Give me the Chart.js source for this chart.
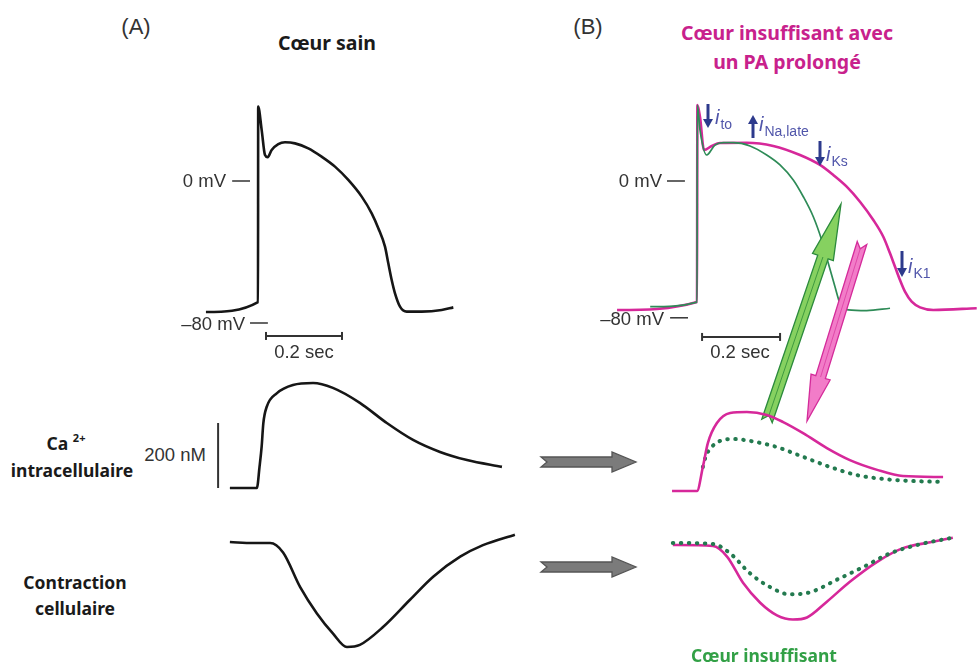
<!DOCTYPE html>
<html>
<head>
<meta charset="utf-8">
<script src="https://cdn.jsdelivr.net/npm/chart.js@4.4.0/dist/chart.umd.min.js"></script>
<style>
body { margin: 0; background: #fff; }
#page { position: relative; width: 980px; height: 664px; overflow: hidden; background: #fff; }
#page canvas { position: absolute; }
.t { position: absolute; white-space: nowrap; }
.lbl { font-family: "Noto Sans"; font-weight: 700; font-size: 17.5px; color: #1a1a1a; }
.ax { font-family: "Liberation Sans"; font-size: 18.5px; color: #333; }
.pan { font-family: "Liberation Sans"; font-size: 22px; color: #333; }
.cur { font-family: "Liberation Sans"; font-size: 20px; color: #5055aa; font-style: italic; }
.cur span { font-size: 14px; font-style: normal; position: relative; top: 5px; margin-left: 1px; }
</style>
</head>
<body>
<div id="page"></div>
<script>
// action potentials: time in ms (0 = upstroke), voltage in mV
const apTimeA = [-137, 0, 0.5, 9.7, 18.4, 25.5, 36, 53.4, 71, 97.4, 132.4, 167.6, 202.6, 237.6, 272.9, 299.2, 316.6, 334.2, 342.9, 351.8, 360.5, 373.7, 391.3, 430.8, 483.4, 514];
const apVoltA = [-73.8, -68.2, 41.9, 28.7, 14.6, 13.4, 17.5, 20.8, 21.8, 21.2, 18.4, 13.7, 8.1, 0.6, -8.8, -18.2, -26.6, -37, -46.4, -55.8, -63.3, -70.8, -73.6, -73.6, -72.7, -71.2];

const apTimeBgreen = [-120, 0, 1, 7.7, 24.8, 46, 67.5, 93.1, 135.9, 178.7, 212.8, 246.9, 272.6, 298.2, 319.7, 336.7, 353.8, 366.7, 388, 435.1, 494.9];
const apVoltBgreen = [-73.5, -70.8, 44.4, 29.8, 15.2, 21, 22.4, 22.4, 20.5, 15.2, 9.4, 0.6, -9.2, -20.9, -34.5, -48.1, -61.8, -71.5, -75.4, -75.8, -74.4];

const apTimeBpink = [-205, 0, 1, 7.7, 18, 38, 59, 127.4, 195.6, 264.1, 315.4, 349.5, 383.8, 417.9, 452.1, 477.7, 494.9, 507.7, 520.5, 533.3, 550.5, 571.8, 605.9, 717.2];
const apVoltBpink = [-75.4, -70.8, 44.4, 37.4, 18.1, 20.5, 22.2, 22.4, 20.5, 15.2, 9.4, 3.5, -3.3, -12.1, -22.8, -32.6, -42.3, -50.1, -57.9, -64.7, -70.6, -73.9, -75.4, -74.4];

// intracellular Ca2+ in nM
const caTimeA = [-74, -3, 4, 9.6, 14, 23, 50, 92, 145, 197, 268, 339, 408, 479, 550, 642];
const caA = [100, 100, 165, 227, 299, 350, 392, 417, 423, 408, 362, 300, 248, 211, 186, 165];

const caTimeBpink = [-64, 0, 15, 28, 51, 85, 128, 179, 221, 272, 333, 392, 462, 528, 631];
const caBpink = [100, 100, 174, 248, 309, 340, 343, 334, 312, 278, 232, 195, 165, 146, 143];

const caTimeBgreen = [15, 23, 38, 59, 92, 136, 205, 272, 341, 410, 477, 546, 628];
const caBgreen = [174, 208, 236, 254, 260, 254, 235, 205, 174, 149, 137, 131, 128];

// cell length change (arbitrary units, negative = shortening)
const ctTimeA = [-74, -13, 32, 66, 111, 155, 197, 234, 268, 329, 400, 461, 532, 592, 676];
const ctA = [0, -0.1, -0.1, -1.0, -4.3, -6.8, -8.7, -10.0, -9.8, -8.1, -5.5, -3.3, -1.4, -0.3, 0.7];

const ctTimeBpink = [-62, 41, 77, 118, 162, 205, 246, 282, 333, 392, 462, 528, 605, 656];
const ctBpink = [0, -0.1, -1.1, -3.6, -5.5, -6.7, -7.1, -6.9, -5.4, -3.5, -1.6, -0.3, 0.3, 0.7];

const ctTimeBgreen = [-62, 41, 85, 136, 187, 238, 290, 359, 426, 495, 564, 656];
const ctBgreen = [0.2, 0.1, -0.8, -2.7, -4.0, -4.7, -4.5, -3.3, -2.1, -0.8, 0, 0.7];

const BLACK = '#161616', PINK = '#d6289a', GREEN = '#2e8b57', DOT = '#237a4f', GREY = '#333';

const page = document.getElementById('page');

function pts(xs, ys) {
    return xs.map((x, i) => ({ x: x, y: ys[i] }));
}

function line(xs, ys, color, extra) {
    return Object.assign({
        data: pts(xs, ys), borderColor: color, borderWidth: 2.6, pointRadius: 0,
        cubicInterpolationMode: 'monotone', fill: false, clip: false
    }, extra || {});
}

const dotted = { borderColor: DOT, borderWidth: 4, borderDash: [0.5, 7.5], borderCapStyle: 'round' };

// drawing helpers
function seg(ctx, x1, y1, x2, y2, w, c) {
    ctx.strokeStyle = c; ctx.lineWidth = w;
    ctx.beginPath(); ctx.moveTo(x1, y1); ctx.lineTo(x2, y2); ctx.stroke();
}

function dash(v, t1, t2) {
    return (ctx, sx, sy) => seg(ctx, sx.getPixelForValue(t1), sy.getPixelForValue(v), sx.getPixelForValue(t2), sy.getPixelForValue(v), 1.5, GREY);
}

function timeBar(v, t1, t2) {
    return (ctx, sx, sy) => {
        const y = sy.getPixelForValue(v), a = sx.getPixelForValue(t1), b = sx.getPixelForValue(t2);
        seg(ctx, a, y, b, y, 2, GREY);
        seg(ctx, a, y - 4, a, y + 4, 2, GREY);
        seg(ctx, b, y - 4, b, y + 4, 2, GREY);
    };
}

function bigArrow(ctx, x1, y1, x2, y2, sw, hw, hl, notch, fill, stroke) {
    const len = Math.hypot(x2 - x1, y2 - y1);
    const ux = (x2 - x1) / len, uy = (y2 - y1) / len, nx = -uy, ny = ux;
    const bx = x2 - ux * hl, by = y2 - uy * hl;
    const p = [
        [x1 + nx * sw / 2, y1 + ny * sw / 2],
        [bx + nx * sw / 2, by + ny * sw / 2],
        [bx + nx * hw / 2, by + ny * hw / 2],
        [x2, y2],
        [bx - nx * hw / 2, by - ny * hw / 2],
        [bx - nx * sw / 2, by - ny * sw / 2],
        [x1 - nx * sw / 2, y1 - ny * sw / 2],
        [x1 + ux * notch, y1 + uy * notch]
    ];
    ctx.beginPath();
    p.forEach((q, i) => i ? ctx.lineTo(q[0], q[1]) : ctx.moveTo(q[0], q[1]));
    ctx.closePath();
    ctx.fillStyle = fill; ctx.fill();
    ctx.strokeStyle = stroke; ctx.lineWidth = 1.3; ctx.lineJoin = 'miter'; ctx.stroke();
    return { ux, uy, nx, ny, bx, by };
}

function smallArrow(ctx, x, yFrom, yTo) {
    const d = yTo > yFrom ? 1 : -1;
    seg(ctx, x, yFrom, x, yTo - d * 8, 3, '#2d3a8c');
    ctx.fillStyle = '#2d3a8c';
    ctx.beginPath();
    ctx.moveTo(x - 5, yTo - d * 9); ctx.lineTo(x + 5, yTo - d * 9); ctx.lineTo(x, yTo);
    ctx.closePath(); ctx.fill();
}

function onPage(fn) {
    return (ctx, sx, sy, off) => { ctx.translate(-off.left, -off.top); fn(ctx); };
}

const decor = {
    id: 'decor',
    afterDatasetsDraw(chart, args, opts) {
        (opts.draw || []).forEach(fn => {
            chart.ctx.save();
            fn(chart.ctx, chart.scales.x, chart.scales.y, opts.off);
            chart.ctx.restore();
        });
    }
};

function makeChart(p, datasets, draw) {
    const left = Math.round(p.x0 + p.xr[0] * p.kx), right = Math.round(p.x0 + p.xr[1] * p.kx);
    const top = Math.round(p.y0 - p.yr[1] * p.ky), bottom = Math.round(p.y0 - p.yr[0] * p.ky);
    const cv = document.createElement('canvas');
    cv.width = right - left; cv.height = bottom - top;
    cv.style.left = left + 'px'; cv.style.top = top + 'px';
    page.appendChild(cv);
    const off = { left: left, top: top };
    new Chart(cv, {
        type: 'line',
        data: { datasets: datasets },
        options: {
            responsive: false, animation: false, devicePixelRatio: 1,
            layout: { padding: 0 },
            events: [],
            plugins: { legend: { display: false }, tooltip: { enabled: false }, decor: { draw: draw || [], off: off } },
            scales: {
                x: { type: 'linear', display: false, min: (left - p.x0) / p.kx, max: (right - p.x0) / p.kx },
                y: { type: 'linear', display: false, min: (p.y0 - bottom) / p.ky, max: (p.y0 - top) / p.ky }
            }
        },
        plugins: [decor]
    });
}

// panel A
makeChart({ x0: 258, kx: 0.38, y0: 181, ky: 1.775, xr: [-200, 700], yr: [-100, 50] },
    [line(apTimeA, apVoltA, BLACK)],
    [dash(0, -68, -21), dash(-80, -21, 26), timeBar(-87.3, 21, 221)]);

makeChart({ x0: 258, kx: 0.38, y0: 520.5, ky: 0.325, xr: [-120, 700], yr: [50, 480] },
    [line(caTimeA, caA, BLACK)],
    [(ctx, sx, sy) => seg(ctx, sx.getPixelForValue(-105), sy.getPixelForValue(100), sx.getPixelForValue(-105), sy.getPixelForValue(300), 2, GREY)]);

makeChart({ x0: 258, kx: 0.38, y0: 542, ky: 10.5, xr: [-120, 700], yr: [-11.5, 1.8] },
    [line(ctTimeA, ctA, BLACK)]);

// panel B
makeChart({ x0: 697, kx: 0.39, y0: 181, ky: 1.71, xr: [-230, 730], yr: [-150, 50] },
    [line(apTimeBgreen, apVoltBgreen, GREEN, { borderWidth: 1.7, order: 0 }),
     line(apTimeBpink, apVoltBpink, PINK, { order: 1 })],
    [dash(0, -77, -31), dash(-80, -69, -23), timeBar(-91.2, 13, 213),
     onPage(ctx => {
         smallArrow(ctx, 708, 104, 128);
         smallArrow(ctx, 753, 138, 115);
         smallArrow(ctx, 820, 141, 166);
         smallArrow(ctx, 902, 251, 277);
         let a = bigArrow(ctx, 767, 421, 841, 204, 11, 22, 56, 6, '#86d160', '#2b8a3c');
         seg(ctx, 767 + a.ux * 6, 421 + a.uy * 6, a.bx, a.by, 1, '#3f9a3f');
         a = bigArrow(ctx, 862, 243, 807, 421, 10, 20, 46, 6, '#f27cc8', '#d42b9a');
         seg(ctx, 862 + a.ux * 6, 243 + a.uy * 6, a.bx, a.by, 1, '#e04aaa');
     })]);

makeChart({ x0: 697, kx: 0.39, y0: 523.5, ky: 0.325, xr: [-420, 720], yr: [50, 480] },
    [line(caTimeBgreen, caBgreen, DOT, Object.assign({ order: 1 }, dotted)),
     line(caTimeBpink, caBpink, PINK, { order: 0 })],
    [onPage(ctx => bigArrow(ctx, 541, 462, 636, 462, 10, 20, 24, 6, '#7b7b7b', '#555'))]);

makeChart({ x0: 697, kx: 0.39, y0: 545, ky: 10.5, xr: [-420, 720], yr: [-9, 1.8] },
    [line(ctTimeBgreen, ctBgreen, DOT, Object.assign({ order: 0 }, dotted)),
     line(ctTimeBpink, ctBpink, PINK, { order: 1 })],
    [onPage(ctx => bigArrow(ctx, 541, 567, 636, 567, 10, 20, 24, 6, '#7b7b7b', '#555'))]);

// texts
function addText(html, x, y, cls, anchor, css) {
    const d = document.createElement('div');
    d.className = 't ' + cls;
    d.innerHTML = html;
    d.style.left = x + 'px'; d.style.top = y + 'px';
    const tx = anchor === 'l' ? '0' : anchor === 'r' ? '-100%' : '-50%';
    d.style.transform = 'translate(' + tx + ',-50%)';
    if (css) d.style.cssText += css;
    page.appendChild(d);
}

addText('(A)', 136, 27, 'pan');
addText('(B)', 588, 27, 'pan');
addText('Cœur sain', 327, 42, 'lbl', 'c', 'font-size:19.5px;');
addText('Cœur insuffisant avec<br>un PA prolongé', 787, 47, 'lbl', 'c', 'font-size:19.5px;line-height:29px;text-align:center;color:#c8218c;');
addText('Ca <span style="font-size:11px;position:relative;top:-8px">2+</span>', 66, 443, 'lbl');
addText('intracellulaire', 72, 470, 'lbl');
addText('Contraction', 75, 582, 'lbl');
addText('cellulaire', 75, 608, 'lbl');
addText('Cœur insuffisant', 764, 655, 'lbl', 'c', 'color:#32a046;');
addText('200 nM', 175, 455, 'ax');
addText('0 mV', 226, 181, 'ax', 'r');
addText('–80 mV', 245, 324, 'ax', 'r');
addText('0.2 sec', 304, 352, 'ax');
addText('0 mV', 662, 181, 'ax', 'r');
addText('–80 mV', 664, 319, 'ax', 'r');
addText('0.2 sec', 740, 352, 'ax');
addText('i<span>to</span>', 715, 117, 'cur', 'l');
addText('i<span>Na,late</span>', 759, 124, 'cur', 'l');
addText('i<span>Ks</span>', 826, 154, 'cur', 'l');
addText('i<span>K1</span>', 908, 266, 'cur', 'l');
</script>
</body>
</html>
